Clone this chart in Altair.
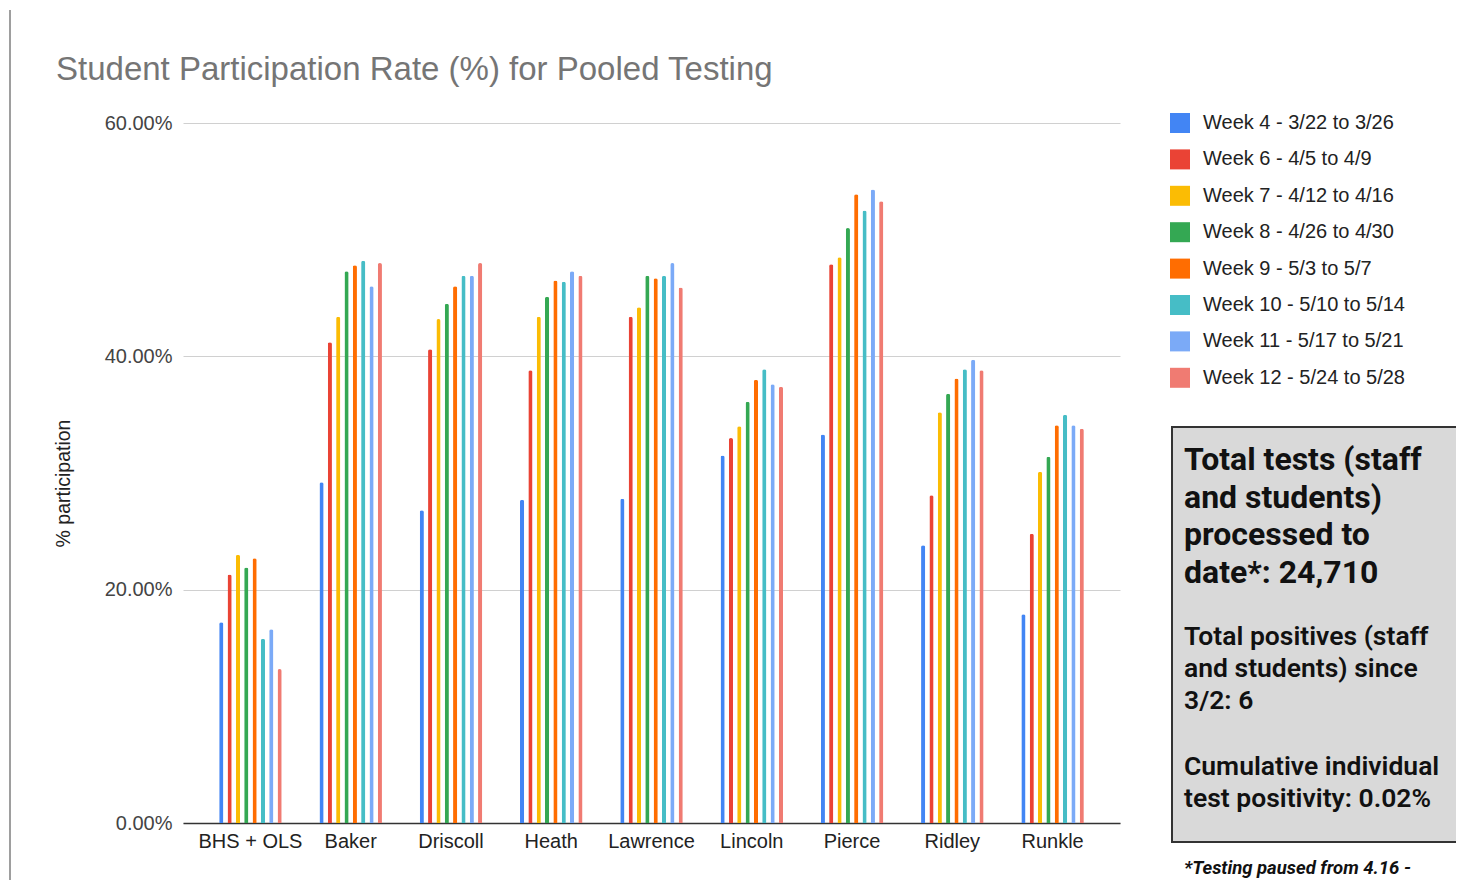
import altair as alt
import pandas as pd

schools = ["BHS + OLS", "Baker", "Driscoll", "Heath", "Lawrence", "Lincoln", "Pierce", "Ridley", "Runkle"]
weeks = ["Week 4 - 3/22 to 3/26", "Week 6 - 4/5 to 4/9", "Week 7 - 4/12 to 4/16",
         "Week 8 - 4/26 to 4/30", "Week 9 - 5/3 to 5/7", "Week 10 - 5/10 to 5/14",
         "Week 11 - 5/17 to 5/21", "Week 12 - 5/24 to 5/28"]
colors = ["#4285F4", "#EA4335", "#FBBC04", "#34A853", "#FF6D01", "#46BDC6", "#7BAAF7", "#F07B72"]

week4 = [17.2, 29.2, 26.8, 27.7, 27.8, 31.5, 33.3, 23.8, 17.9]
week6 = [21.3, 41.2, 40.6, 38.8, 43.4, 33.0, 47.9, 28.1, 24.8]
week7 = [23.0, 43.4, 43.2, 43.4, 44.2, 34.0, 48.5, 35.2, 30.1]
week8 = [21.9, 47.3, 44.5, 45.1, 46.9, 36.1, 51.0, 36.8, 31.4]
week9 = [22.7, 47.8, 46.0, 46.5, 46.7, 38.0, 53.9, 38.1, 34.1]
week10 = [15.8, 48.2, 46.9, 46.4, 46.9, 38.9, 52.5, 38.9, 35.0]
week11 = [16.6, 46.0, 46.9, 47.3, 48.0, 37.6, 54.3, 39.7, 34.1]
week12 = [13.2, 48.0, 48.0, 46.9, 45.9, 37.4, 53.3, 38.8, 33.8]

title_text = "Student Participation Rate (%) for Pooled Testing"
big_lines = ["Total tests (staff", "and students)", "processed to", "date*: 24,710"]
mid_lines = ["Total positives (staff", "and students) since", "3/2: 6"]
low_lines = ["Cumulative individual", "test positivity: 0.02%"]
foot_lines = ["*Testing paused from 4.16 -"]

series = [week4, week6, week7, week8, week9, week10, week11, week12]
rows = []
for w, vals in zip(weeks, series):
    for s, v in zip(schools, vals):
        rows.append({"school": s, "week": w, "rate": v})
df = pd.DataFrame(rows)

FONT = "Liberation Sans"

bars = alt.Chart(df).mark_bar(cornerRadiusTopLeft=2, cornerRadiusTopRight=2).encode(
    x=alt.X("school:N", sort=schools,
            scale=alt.Scale(paddingInner=0.335, paddingOuter=0.34),
            axis=alt.Axis(title=None, labelAngle=0, labelFontSize=20, labelColor="#222222",
                          labelFont=FONT, labelPadding=8, ticks=False,
                          domainColor="#333333", domainWidth=1.5, grid=False)),
    xOffset=alt.XOffset("week:N", sort=weeks, scale=alt.Scale(paddingInner=0.5, paddingOuter=0.25)),
    y=alt.Y("rate:Q", scale=alt.Scale(domain=[0, 60]),
            axis=alt.Axis(values=[0, 20, 40, 60], labelExpr="format(datum.value, '.2f') + '%'",
                          title="% participation", titleFontSize=19.5, titleFontWeight="normal",
                          titleColor="#222222", titleFont=FONT,
                          titleX=-120, titleY=360, titleAngle=-90, titleBaseline="middle", titleAlign="center",
                          labelFontSize=20, labelColor="#444444", labelFont=FONT,
                          labelPadding=11, ticks=False, domain=False,
                          gridColor="#d0d0d0", gridWidth=1)),
    color=alt.Color("week:N", sort=weeks, scale=alt.Scale(domain=weeks, range=colors),
                    legend=alt.Legend(title=None, orient="none", legendX=987, legendY=-10,
                                      symbolType="square", symbolSize=400, symbolStrokeWidth=0,
                                      symbolOpacity=1,
                                      labelFontSize=20, labelColor="#222222", labelFont=FONT,
                                      labelOffset=13, rowPadding=16.4, labelLimit=300))
)

# side annotation box
box = alt.Chart(pd.DataFrame({"a": [0]})).mark_rect(
    fill="#d9d9d9", stroke="#333333", strokeWidth=2, clip=False
).encode(x=alt.value(989), x2=alt.value(1320), y=alt.value(304), y2=alt.value(719))


def text_block(lines, x0, y0, step, size, weight, style="normal", font="Roboto", color="#111111"):
    layers = []
    for i, t in enumerate(lines):
        layers.append(
            alt.Chart(pd.DataFrame({"t": [t]})).mark_text(
                align="left", baseline="alphabetic", font=font, fontSize=size,
                fontWeight=weight, fontStyle=style, color=color, clip=False
            ).encode(x=alt.value(x0), y=alt.value(y0 + i * step), text="t:N")
        )
    return layers


texts = []
texts += text_block([title_text], -127, 80 - 123, 0, 33, "normal", font=FONT, color="#757575")
texts += text_block(big_lines, 1001, 470 - 123, 37.7, 32, "bold")
texts += text_block(mid_lines, 1001, 645 - 123, 32, 26.5, 600)
texts += text_block(low_lines, 1001, 775 - 123, 32, 26.5, 600)
texts += text_block(foot_lines, 1001, 874 - 123, 0, 18.5, "bold", "italic")

left_line = alt.Chart(pd.DataFrame({"a": [0]})).mark_rule(color="#9e9e9e", strokeWidth=2, clip=False).encode(
    x=alt.value(-173), y=alt.value(-113), y2=alt.value(800))

chart = alt.layer(bars, box, *texts, left_line).properties(
    width=937, height=700,
    padding={"left": 175, "top": 115, "right": 336, "bottom": 57},
    autosize=alt.AutoSizeParams(type="none"),
).configure(background="white").configure_view(strokeWidth=0)

chart.save("out.html", embed_options={"renderer": "svg", "actions": False})
